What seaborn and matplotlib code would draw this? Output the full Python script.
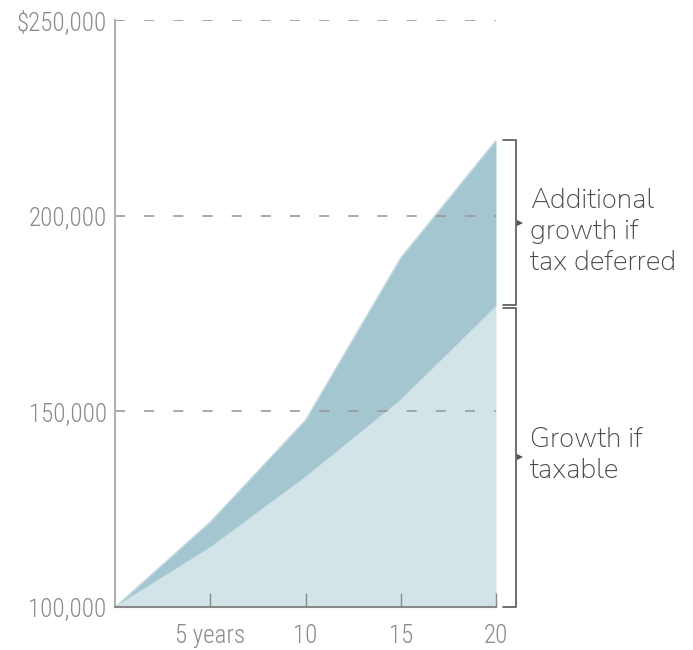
import matplotlib
matplotlib.use("Agg")
import matplotlib.pyplot as plt
import seaborn as sns
import pandas as pd
from matplotlib import font_manager as fm
from matplotlib.lines import Line2D

years = [0, 5, 10, 15, 20]
tax_deferred = [100000, 121800, 147800, 189300, 219300]
taxable = [100000, 115200, 133200, 152900, 176800]
xtick_pos = [5, 10, 15, 20]
xtick_labels = ["5 years", "10", "15", "20"]
ytick_pos = [100000, 150000, 200000, 250000]
ytick_labels = ["100,000", "150,000", "200,000", "$250,000"]
label_upper = "Additional\ngrowth if\ntax deferred"
label_lower = "Growth if\ntaxable"

sns.set_theme(style="white")
names = {f.name for f in fm.fontManager.ttflist}
def pick(cands):
    for c in cands:
        if c in names:
            return c
    return "DejaVu Sans"
tick_font = pick(["Roboto Condensed", "Asap Condensed", "PT Sans Narrow", "Archivo Narrow",
                  "Encode Sans Condensed", "Liberation Sans Narrow", "Open Sans Condensed"])
ann_font = pick(["Nunito Sans", "Figtree", "Mulish", "Lato"])
plt.rcParams["font.family"] = [tick_font, "DejaVu Sans"]

df = pd.DataFrame({"year": years, "deferred": tax_deferred, "taxable": taxable})

fig = plt.figure(figsize=(6.93, 6.5), dpi=100)
ax = fig.add_axes([115/693, 1-607/650, (496-115)/693, (607-20)/650])

dark = "#a3c6d0"
light = "#d3e4e9"
ax.fill_between(df["year"], df["taxable"], df["deferred"], color=dark, lw=0, zorder=1)
ax.fill_between(df["year"], 100000, df["taxable"], color=light, lw=0, zorder=1)
sns.lineplot(data=df, x="year", y="deferred", ax=ax, color=dark, lw=0.5, zorder=1.5)
sns.lineplot(data=df, x="year", y="taxable", ax=ax, color=light, lw=0.5, zorder=1.5)

ax.set_xlim(0, 20)
ax.set_ylim(100000, 250000)
ax.set_xlabel("")
ax.set_ylabel("")

for y in [150000, 200000, 250000]:
    ax.axhline(y, color="#999999", lw=1.2, ls=(0, (6, 11.5)), zorder=2)

ax.set_xticks(xtick_pos)
ax.set_xticklabels(xtick_labels, fontweight="light")
ax.set_yticks(ytick_pos)
ax.set_yticklabels(ytick_labels, fontweight="light")
ax.tick_params(axis="x", direction="in", length=10, width=1, color="#888888",
               labelsize=18, labelcolor="#8a8a8a", pad=12, bottom=True)
ax.tick_params(axis="y", length=0, labelsize=18, labelcolor="#8a8a8a", pad=6)
ax.set_axisbelow(False)

for s in ["top", "right"]:
    ax.spines[s].set_visible(False)
ax.spines["left"].set_color("#b0b0b0")
ax.spines["left"].set_linewidth(1.5)
ax.spines["bottom"].set_color("#888888")
ax.spines["bottom"].set_linewidth(1.5)
ax.spines["bottom"].set_zorder(4)

# brackets
xb = 21.05
xe = 20.37
bc = "#555555"
def bracket(y0, y1, label, dy_text=0):
    ax.add_line(Line2D([xe, xb, xb, xe], [y1, y1, y0, y0], color=bc, lw=1.2, clip_on=False))
    ym = (y0 + y1) / 2
    ax.plot([xb + 0.22], [ym], marker=">", ms=4, color=bc, clip_on=False, mew=0)
    ax.text(21.78, ym + dy_text, label, fontsize=20, color="#4a4a4a", va="center", ha="left",
            linespacing=1.3, family=[ann_font, "DejaVu Sans"], clip_on=False)

bracket(taxable[-1] + 300, tax_deferred[-1], label_upper, -2300)
bracket(100000, taxable[-1] - 300, label_lower, 500)

fig.savefig("out.png", dpi=100)
